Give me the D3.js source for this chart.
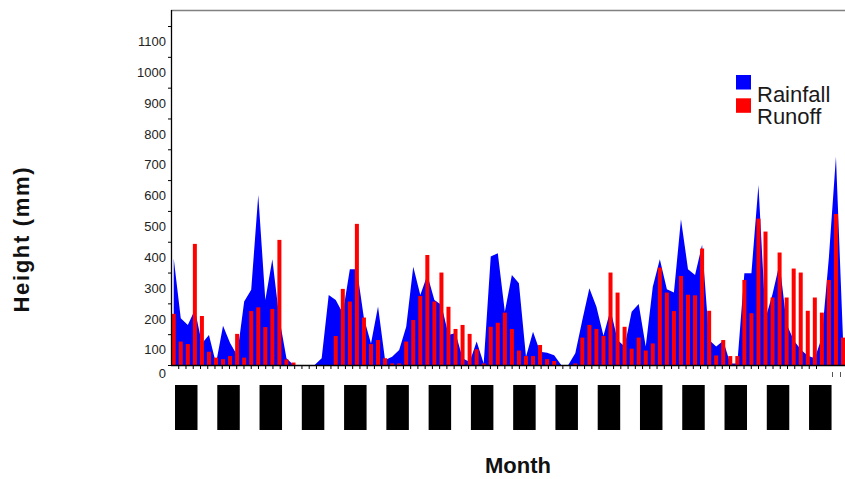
<!DOCTYPE html>
<html>
<head>
<meta charset="utf-8">
<script src="https://cdn.jsdelivr.net/npm/d3@7"></script>
<style>
  body { margin: 0; background: #fff; }
  svg { display: block; font-family: "Liberation Sans", Arial, sans-serif; }
</style>
</head>
<body>
<div id="chart"></div>
<script>
// Monthly rainfall and runoff (mm), 96 months
var months = d3.range(96);

var rainfall = [346, 152, 130, 179, 70, 97, 5, 127, 71, 32,
  206, 244, 552, 211, 343, 150, 22, 0, 0, 0,
  0, 22, 227, 211, 168, 311, 311, 152, 70, 190,
  16, 27, 49, 124, 319, 227, 292, 211, 195, 97,
  104, 22, 10, 76, 5, 352, 363, 173, 292, 265,
  27, 108, 43, 40, 32, 0, 0, 38, 146, 249,
  189, 95, 179, 81, 60, 173, 198, 60, 254, 343,
  246, 235, 473, 311, 292, 390, 81, 60, 79, 5,
  5, 298, 298, 584, 152, 230, 330, 133, 80, 50,
  30, 22, 90, 350, 676, 85];

var runoff = [166, 76, 68, 393, 159, 43, 24, 19, 29, 101,
  24, 175, 187, 123, 182, 406, 18, 8, 0, 0,
  0, 0, 0, 94, 247, 206, 458, 154, 68, 81,
  22, 5, 5, 76, 146, 224, 357, 206, 300, 189,
  117, 130, 101, 51, 5, 124, 137, 170, 117, 47,
  29, 29, 65, 19, 13, 0, 0, 5, 89, 130,
  117, 94, 300, 235, 124, 53, 89, 47, 70, 316,
  235, 175, 289, 228, 226, 378, 176, 31, 81, 29,
  29, 276, 168, 475, 433, 219, 365, 219, 313, 300,
  176, 219, 170, 276, 490, 89];

var yTicks = [0, 100, 200, 300, 400, 500, 600, 700, 800, 900, 1000, 1100];

// first month of each half year (x label blocks)
var halfYearStarts = [0, 6, 12, 18, 24, 30, 36, 42, 48, 54, 60, 66, 72, 78, 84, 90];

var seriesNames = ['Rainfall', 'Runoff'];
var seriesColors = ['#0000ff', '#ff0000'];

var width = 845, height = 479;
var plotLeft = 171, plotTop = 10, plotBottom = 365, plotRight = 845;

var svg = d3.select('#chart')
  .append('svg')
  .attr('width', width)
  .attr('height', height);

var x = d3.scaleBand()
  .domain(months)
  .range([170.2, 170.2 + months.length * 7.045]);

var step = x.step();

var y = d3.scaleLinear()
  .domain([0, 1152])
  .range([plotBottom, plotTop]);

// ticks along the bottom are on their own spacing
var xTick = d3.scaleLinear()
  .domain([0, 89])
  .range([plotLeft, 816]);

svg.append('clipPath')
  .attr('id', 'plotClip')
  .append('rect')
  .attr('x', plotLeft)
  .attr('y', plotTop)
  .attr('width', plotRight - plotLeft)
  .attr('height', plotBottom - plotTop);

var plot = svg.append('g').attr('clip-path', 'url(#plotClip)');

// rainfall area
var area = d3.area()
  .x(function(d, i) { return x(i) + step / 2; })
  .y0(y(0))
  .y1(function(d) { return y(d); });

plot.append('path')
  .datum(rainfall)
  .attr('fill', seriesColors[0])
  .attr('d', area);

// runoff bars
plot.selectAll('rect.bar')
  .data(runoff)
  .enter()
  .append('rect')
  .attr('class', 'bar')
  .attr('x', function(d, i) { return x(i) + step / 2 - 2; })
  .attr('width', 4)
  .attr('y', function(d) { return y(d); })
  .attr('height', function(d) { return y(0) - y(d); })
  .attr('fill', seriesColors[1]);

// top frame line
svg.append('line')
  .attr('x1', plotLeft).attr('x2', plotRight)
  .attr('y1', plotTop + 0.5).attr('y2', plotTop + 0.5)
  .attr('stroke', '#808080')
  .attr('stroke-width', 1.5);

// y axis
var yAxis = svg.append('g')
  .attr('transform', 'translate(' + plotLeft + ',0)')
  .call(d3.axisLeft(y).tickValues(yTicks).tickFormat(d3.format('d'))
    .tickSize(3).tickPadding(2).tickSizeOuter(0));

yAxis.select('.domain').remove();
yAxis.selectAll('.tick line').attr('stroke', '#000');
yAxis.selectAll('.tick text')
  .attr('y', function(d) { return d === 0 ? 8.5 : 15.5; })
  .attr('fill', '#222')
  .style('font-size', '13px')
  .style('font-family', '"Liberation Sans", Arial, sans-serif');

svg.append('line')
  .attr('x1', plotLeft + 0.5).attr('x2', plotLeft + 0.5)
  .attr('y1', plotTop).attr('y2', plotBottom)
  .attr('stroke', '#000')
  .attr('stroke-width', 1.3);

// x axis ticks
var xAxis = svg.append('g')
  .attr('transform', 'translate(0,' + plotBottom + ')')
  .call(d3.axisBottom(xTick).tickValues(d3.range(1, 90)).tickSize(4).tickFormat(''));

xAxis.select('.domain').remove();
xAxis.selectAll('.tick line').attr('stroke', '#000');

svg.append('line')
  .attr('x1', plotLeft).attr('x2', plotRight)
  .attr('y1', plotBottom + 0.5).attr('y2', plotBottom + 0.5)
  .attr('stroke', '#000')
  .attr('stroke-width', 1.3);

svg.selectAll('line.extra')
  .data([832.5, 840.5])
  .enter()
  .append('line')
  .attr('class', 'extra')
  .attr('x1', function(d) { return d; })
  .attr('x2', function(d) { return d; })
  .attr('y1', 372).attr('y2', 377)
  .attr('stroke', '#555');

// x labels (rendered as solid blocks)
svg.selectAll('rect.xlabel')
  .data(halfYearStarts)
  .enter()
  .append('rect')
  .attr('class', 'xlabel')
  .attr('x', function(d) { return x(d) + 4.8; })
  .attr('y', 385)
  .attr('width', 22.5)
  .attr('height', 45)
  .attr('fill', '#000');

// axis titles
svg.append('text')
  .attr('x', 518)
  .attr('y', 473)
  .attr('text-anchor', 'middle')
  .style('font-size', '22px')
  .style('font-weight', 'bold')
  .attr('fill', '#111')
  .text('Month');

svg.append('text')
  .attr('transform', 'translate(29,240) rotate(-90)')
  .attr('text-anchor', 'middle')
  .attr('textLength', 145)
  .attr('lengthAdjust', 'spacing')
  .style('font-size', '22px')
  .style('font-weight', 'bold')
  .attr('fill', '#111')
  .text('Height (mm)');

// legend
var legend = svg.append('g').attr('transform', 'translate(736,75)');

legend.selectAll('rect')
  .data(seriesNames)
  .enter()
  .append('rect')
  .attr('x', 0)
  .attr('y', function(d, i) { return i * 23.3; })
  .attr('width', 15)
  .attr('height', 14.5)
  .attr('fill', function(d, i) { return seriesColors[i]; });

legend.selectAll('text')
  .data(seriesNames)
  .enter()
  .append('text')
  .attr('x', 21)
  .attr('y', function(d, i) { return 26.5 + i * 22.5; })
  .style('font-size', '22px')
  .attr('fill', '#1a1a1a')
  .text(function(d) { return d; });
</script>
</body>
</html>
